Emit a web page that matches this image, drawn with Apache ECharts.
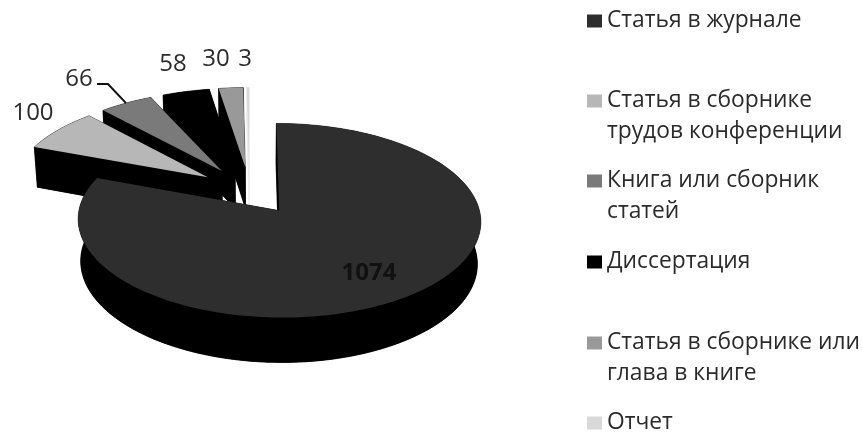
<!DOCTYPE html>
<html>
<head>
<meta charset="utf-8">
<style>
    html, body { margin: 0; padding: 0; background: #fff; }
    #chart { width: 862px; height: 434px; }
</style>
<script src="https://cdn.jsdelivr.net/npm/echarts@6/dist/echarts.min.js"></script>
</head>
<body>
<div id="chart"></div>
<script>
    const categories = ["Статья в журнале", "Статья в сборнике трудов конференции", "Книга или сборник статей", "Диссертация", "Статья в сборнике или глава в книге", "Отчет"];
    const legendLines = ["Статья в журнале", "Статья в сборнике\nтрудов конференции", "Книга или сборник\nстатей", "Диссертация", "Статья в сборнике или\nглава в книге", "Отчет"];
    const values = [1074, 100, 66, 58, 30, 3];
    const topColors = ["#2e2e2e", "#b7b7b7", "#7a7a7a", "#000000", "#999999", "#d9d9d9"];
    const sideColors = ["#000000", "#000000", "#000000", "#000000", "#000000", "#ececec"];

    // layout of the tilted disc, screen = projection of (u, v) on a unit disc
    const cx = 249.5, cy = 190.5, rx = 196, ry = 92, tilt = 0.1;
    const depth = 42, depthShrink = 0.015, explode = 0.26;
    const labelSpots = [[369, 273], [33, 113], [79, 79], [173, 64], [216, 59], [245, 59]];
    const legendCenters = [21, 101, 181, 262, 343, 423];
    const lineH = 31;
    const textFont = "Open Sans";

    const total = values.reduce((a, b) => a + b, 0);

    function project(u, v, z) {
        const w = 1 + tilt * v + depthShrink * z;
        return [cx + rx * u / w, cy + (depth * z - ry * v) / w];
    }

    function sliceAngles(idx) {
        const before = values.slice(0, idx).reduce((a, b) => a + b, 0);
        return [before / total * Math.PI * 2, (before + values[idx]) / total * Math.PI * 2];
    }

    function arcPoints(idx, z) {
        const [a0, a1] = sliceAngles(idx);
        const mid = (a0 + a1) / 2;
        const ou = explode * Math.sin(mid), ov = explode * Math.cos(mid);
        const steps = Math.max(2, Math.ceil((a1 - a0) / 0.03));
        const pts = [];
        for (let i = 0; i <= steps; i++) {
            const a = a0 + (a1 - a0) * i / steps;
            pts.push(project(ou + Math.sin(a), ov + Math.cos(a), z));
        }
        return { pts, apex: project(ou, ov, z), rim: project(ou + Math.sin(mid), ov + Math.cos(mid), 0) };
    }

    function renderSlice(idx) {
        const top = arcPoints(idx, 0);
        const bottom = arcPoints(idx, 1);
        const sideStyle = { fill: sideColors[idx], stroke: sideColors[idx], lineWidth: 0.5 };
        const last = top.pts.length - 1;
        const children = [
            { type: "polygon", shape: { points: [bottom.apex].concat(bottom.pts) }, style: sideStyle },
            { type: "polygon", shape: { points: top.pts.concat(bottom.pts.slice().reverse()) }, style: sideStyle },
            { type: "polygon", shape: { points: [top.apex, top.pts[0], bottom.pts[0], bottom.apex] }, style: sideStyle },
            { type: "polygon", shape: { points: [top.apex, top.pts[last], bottom.pts[last], bottom.apex] }, style: sideStyle },
            { type: "polygon", shape: { points: [top.apex].concat(top.pts) }, style: { fill: topColors[idx] } }
        ];
        return { children, rim: top.rim };
    }

    const series = categories.map((name, idx) => ({
        name,
        type: "custom",
        coordinateSystem: "none",
        silent: true,
        itemStyle: { color: topColors[idx] },
        z: 10 + categories.length - idx,
        data: [values[idx]],
        renderItem: () => {
            const slice = renderSlice(idx);
            return { type: "group", children: slice.children };
        }
    }));

    // value labels sit above all slices
    series.push({
        type: "custom",
        coordinateSystem: "none",
        silent: true,
        z: 30,
        data: values,
        renderItem: (params) => {
            const idx = params.dataIndex;
            const [x, y] = labelSpots[idx];
            const children = [{
                type: "text",
                style: {
                    text: String(values[idx]),
                    x, y,
                    align: "center",
                    verticalAlign: "middle",
                    fill: idx === 0 ? "#111111" : "#2b2b2b",
                    font: (idx === 0 ? "bold " : "") + "24px '" + textFont + "'"
                }
            }];
            if (idx === 2) {
                const rim = renderSlice(idx).rim;
                children.push({
                    type: "polyline",
                    shape: { points: [[97, 84], [108, 84], rim] },
                    style: { stroke: "#111111", lineWidth: 2, fill: null }
                });
            }
            return { type: "group", children };
        }
    });

    const legend = categories.map((name, idx) => {
        const multi = legendLines[idx].includes("\n");
        return {
            data: [name],
            left: 587,
            top: legendCenters[idx] - (multi ? lineH * 1.5 : lineH / 2),
            padding: 0,
            icon: "rect",
            itemWidth: 15,
            itemHeight: 13,
            itemGap: 0,
            selectedMode: false,
            // a blank first line keeps the marker level with the first text line
            formatter: () => (multi ? "\n" : "") + legendLines[idx],
            textStyle: {
                color: "#2b2b2b",
                fontFamily: textFont,
                fontSize: 22.8,
                lineHeight: lineH
            }
        };
    });

    const chart = echarts.init(document.getElementById("chart"), null, { renderer: "canvas" });
    chart.setOption({
        backgroundColor: "#ffffff",
        animation: false,
        legend,
        series
    });
</script>
</body>
</html>
